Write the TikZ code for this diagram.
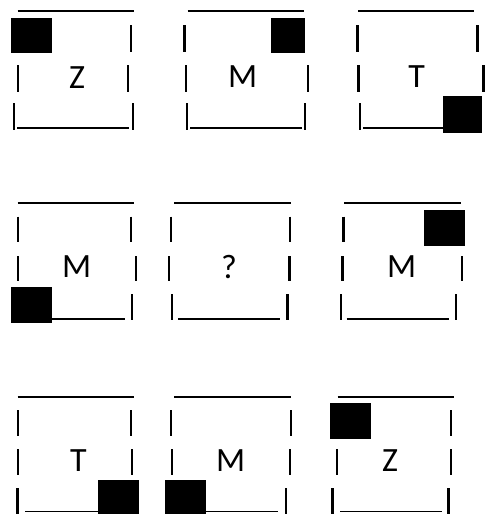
\documentclass[tikz,border=0pt]{standalone}
\usepackage{fontspec}
\setmainfont{Carlito}

\begin{document}
\begin{tikzpicture}[
    x=1pt, y=-1pt,
    bar/.style={line width=2.4pt, draw=black},
    rule/.style={line width=1.9pt, draw=black},
    blk/.style={fill=black},
    lbl/.style={inner sep=0pt, font=\fontsize{34}{40}\selectfont}
]
\useasboundingbox (0,0) rectangle (485,514);
% top row
\draw[rule] (17.7,11) -- (134,11);
\fill[blk] (11,18) rectangle (52,53);
\draw[bar] (131,25) -- ++(0,27);
\draw[bar] (18,65) -- ++(0,27);
\node[lbl] (z1) at (77,77.5) {Z};
\draw[bar] (128,65) -- ++(0,27);
\draw[bar] (14,103) -- ++(0,27);
\draw[rule] (17,128) -- (129,128);
\draw[bar] (133,103) -- ++(0,27);

\draw[rule] (187.7,11) -- (304,11);
\draw[bar] (184.3,25) -- ++(0,27);
\fill[blk] (271,18) rectangle (305,53);
\draw[bar] (185.7,65) -- ++(0,27);
\node[lbl] (m1) at (242.7,77) {M};
\draw[bar] (307.7,65) -- ++(0,27);
\draw[bar] (186.7,103) -- ++(0,27);
\draw[rule] (190,128) -- (301.7,128);
\draw[bar] (305,103) -- ++(0,27);

\draw[rule] (358.3,11) -- (474.3,11);
\draw[bar] (357.3,25) -- ++(0,27);
\draw[bar] (477.3,25) -- ++(0,27);
\draw[bar] (358.3,65) -- ++(0,27);
\node[lbl] (t1) at (416.7,76.7) {T};
\draw[bar] (483.3,65) -- ++(0,27);
\draw[bar] (360,103) -- ++(0,27);
\draw[rule] (363,128) -- (444,128);
\fill[blk] (443.3,96) rectangle (481.7,132.7);

% middle row
\draw[rule] (17.7,203.3) -- (134,203.3);
\draw[bar] (18,216.7) -- ++(0,25);
\draw[bar] (131,216.7) -- ++(0,25);
\draw[bar] (18,256) -- ++(0,25);
\node[lbl] (m2) at (76.7,267) {M};
\draw[bar] (136,256) -- ++(0,25);
\fill[blk] (11,286.7) rectangle (52,322.7);
\draw[rule] (52,319) -- (124.7,319);
\draw[bar] (131.7,294) -- ++(0,26);

\draw[rule] (174.3,203.3) -- (291,203.3);
\draw[bar] (171,216.7) -- ++(0,25);
\draw[bar] (290,216.7) -- ++(0,25);
\draw[bar] (169,256) -- ++(0,25);
\node[lbl] (q) at (229,266.7) {?};
\draw[bar] (289.3,256) -- ++(0,25);
\draw[bar] (171.7,294) -- ++(0,26);
\draw[rule] (178.3,319) -- (280,319);
\draw[bar] (287.3,294) -- ++(0,26);

\draw[rule] (344,203.3) -- (460.7,203.3);
\draw[bar] (343.3,216.7) -- ++(0,25);
\fill[blk] (424.3,210) rectangle (465,246);
\draw[bar] (342.3,256) -- ++(0,25);
\node[lbl] (m3) at (401.7,267) {M};
\draw[bar] (461.7,256) -- ++(0,25);
\draw[bar] (340.7,294) -- ++(0,26);
\draw[rule] (346.7,319) -- (449.3,319);
\draw[bar] (456,294) -- ++(0,26);

% bottom row
\draw[rule] (17.7,396.7) -- (134,396.7);
\draw[bar] (18,410) -- ++(0,26);
\draw[bar] (131,410) -- ++(0,26);
\draw[bar] (18,449.3) -- ++(0,26);
\node[lbl] (t2) at (78.3,460.5) {T};
\draw[bar] (131.7,449.3) -- ++(0,26);
\draw[bar] (17.3,488) -- ++(0,26);
\draw[rule] (25,511.5) -- (98,511.5);
\fill[blk] (97.7,480) rectangle (139,514);

\draw[rule] (174.3,396.7) -- (291,396.7);
\draw[bar] (171,410) -- ++(0,26);
\draw[bar] (290.7,410) -- ++(0,26);
\draw[bar] (171.7,449.3) -- ++(0,26);
\node[lbl] (m4) at (230.7,460.8) {M};
\draw[bar] (290,449.3) -- ++(0,26);
\fill[blk] (165,480) rectangle (205.7,514);
\draw[rule] (205.7,511.5) -- (278.3,511.5);
\draw[bar] (286,488) -- ++(0,26);

\draw[rule] (337.7,396.7) -- (454.3,396.7);
\fill[blk] (330,402.7) rectangle (371,439);
\draw[bar] (451,410) -- ++(0,26);
\draw[bar] (336.7,449.3) -- ++(0,26);
\node[lbl] (z2) at (390,461) {Z};
\draw[bar] (451,449.3) -- ++(0,26);
\draw[bar] (332.3,488) -- ++(0,26);
\draw[rule] (340,511.5) -- (441.7,511.5);
\draw[bar] (448.3,488) -- ++(0,26);
\end{tikzpicture}
\end{document}
